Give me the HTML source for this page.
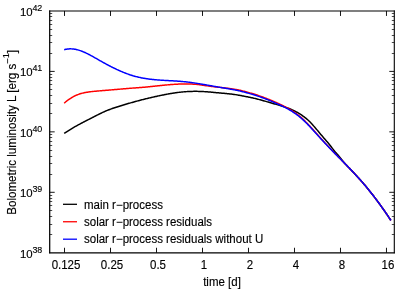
<!DOCTYPE html>
<html><head><meta charset="utf-8"><title>plot</title><style>html,body{margin:0;padding:0;background:#fff}body{width:415px;height:290px;overflow:hidden}</style></head><body>
<svg width="415" height="290" viewBox="0 0 415 290" style="display:block;will-change:transform">
<rect width="415" height="290" fill="#fff"/>
<g fill="none" stroke-linejoin="round" stroke-linecap="butt" stroke-width="1.48">
<path d="M64.20,133.37 L65.00,132.84 L65.80,132.31 L66.60,131.78 L67.40,131.27 L68.20,130.76 L69.00,130.26 L69.80,129.76 L70.60,129.28 L71.40,128.80 L72.20,128.32 L73.00,127.85 L73.80,127.39 L74.60,126.93 L75.40,126.48 L76.20,126.03 L77.00,125.58 L77.80,125.14 L78.60,124.71 L79.40,124.28 L80.20,123.85 L81.00,123.42 L81.80,123.00 L82.60,122.58 L83.40,122.16 L84.20,121.75 L85.00,121.34 L85.80,120.92 L86.60,120.51 L87.40,120.11 L88.20,119.70 L89.00,119.29 L89.80,118.88 L90.60,118.48 L91.40,118.07 L92.20,117.66 L93.00,117.26 L93.80,116.85 L94.60,116.44 L95.40,116.03 L96.20,115.62 L97.00,115.21 L97.80,114.80 L98.60,114.40 L99.40,114.00 L100.20,113.60 L101.00,113.21 L101.80,112.83 L102.60,112.45 L103.40,112.08 L104.20,111.72 L105.00,111.37 L105.80,111.02 L106.60,110.69 L107.40,110.37 L108.20,110.05 L109.00,109.74 L109.80,109.44 L110.60,109.14 L111.40,108.85 L112.20,108.57 L113.00,108.29 L113.80,108.02 L114.60,107.75 L115.40,107.49 L116.20,107.23 L117.00,106.97 L117.80,106.71 L118.60,106.46 L119.40,106.21 L120.20,105.96 L121.00,105.72 L121.80,105.47 L122.60,105.23 L123.40,104.98 L124.20,104.74 L125.00,104.50 L125.80,104.27 L126.60,104.03 L127.40,103.80 L128.20,103.56 L129.00,103.33 L129.80,103.10 L130.60,102.87 L131.40,102.64 L132.20,102.42 L133.00,102.20 L133.80,101.97 L134.60,101.75 L135.40,101.53 L136.20,101.32 L137.00,101.10 L137.80,100.89 L138.60,100.67 L139.40,100.46 L140.20,100.25 L141.00,100.05 L141.80,99.84 L142.60,99.63 L143.40,99.43 L144.20,99.23 L145.00,99.03 L145.80,98.83 L146.60,98.64 L147.40,98.44 L148.20,98.25 L149.00,98.06 L149.80,97.87 L150.60,97.68 L151.40,97.49 L152.20,97.31 L153.00,97.12 L153.80,96.94 L154.60,96.76 L155.40,96.58 L156.20,96.41 L157.00,96.23 L157.80,96.06 L158.60,95.89 L159.40,95.72 L160.20,95.55 L161.00,95.38 L161.80,95.22 L162.60,95.06 L163.40,94.90 L164.20,94.74 L165.00,94.58 L165.80,94.43 L166.60,94.28 L167.40,94.13 L168.20,93.98 L169.00,93.84 L169.80,93.70 L170.60,93.57 L171.40,93.43 L172.20,93.30 L173.00,93.18 L173.80,93.05 L174.60,92.93 L175.40,92.82 L176.20,92.71 L177.00,92.60 L177.80,92.49 L178.60,92.39 L179.40,92.30 L180.20,92.20 L181.00,92.12 L181.80,92.03 L182.60,91.96 L183.40,91.88 L184.20,91.81 L185.00,91.75 L185.80,91.69 L186.60,91.63 L187.40,91.59 L188.20,91.54 L189.00,91.50 L189.80,91.47 L190.60,91.43 L191.40,91.41 L192.20,91.39 L193.00,91.37 L193.80,91.36 L194.60,91.35 L195.40,91.35 L196.20,91.35 L197.00,91.36 L197.80,91.37 L198.60,91.39 L199.40,91.41 L200.20,91.43 L201.00,91.46 L201.80,91.49 L202.60,91.53 L203.40,91.57 L204.20,91.62 L205.00,91.67 L205.80,91.72 L206.60,91.78 L207.40,91.84 L208.20,91.91 L209.00,91.97 L209.80,92.04 L210.60,92.11 L211.40,92.19 L212.20,92.26 L213.00,92.33 L213.80,92.41 L214.60,92.49 L215.40,92.56 L216.20,92.64 L217.00,92.71 L217.80,92.79 L218.60,92.86 L219.40,92.93 L220.20,93.00 L221.00,93.07 L221.80,93.14 L222.60,93.20 L223.40,93.27 L224.20,93.34 L225.00,93.40 L225.80,93.48 L226.60,93.57 L227.40,93.65 L228.20,93.74 L229.00,93.83 L229.80,93.92 L230.60,94.01 L231.40,94.10 L232.20,94.20 L233.00,94.30 L233.80,94.40 L234.60,94.51 L235.40,94.63 L236.20,94.75 L237.00,94.88 L237.80,95.01 L238.60,95.15 L239.40,95.29 L240.20,95.44 L241.00,95.59 L241.80,95.74 L242.60,95.90 L243.40,96.06 L244.20,96.23 L245.00,96.40 L245.80,96.54 L246.60,96.69 L247.40,96.84 L248.20,97.00 L249.00,97.16 L249.80,97.32 L250.60,97.49 L251.40,97.66 L252.20,97.84 L253.00,98.02 L253.80,98.20 L254.60,98.39 L255.40,98.58 L256.20,98.78 L257.00,98.98 L257.80,99.18 L258.60,99.39 L259.40,99.60 L260.20,99.81 L261.00,100.03 L261.80,100.25 L262.60,100.47 L263.40,100.69 L264.20,100.92 L265.00,101.15 L265.80,101.38 L266.60,101.61 L267.40,101.85 L268.20,102.08 L269.00,102.32 L269.80,102.56 L270.60,102.79 L271.40,103.01 L272.20,103.24 L273.00,103.46 L273.80,103.69 L274.60,103.92 L275.40,104.15 L276.20,104.38 L277.00,104.61 L277.80,104.84 L278.60,105.06 L279.40,105.29 L280.20,105.53 L281.00,105.78 L281.80,106.04 L282.60,106.29 L283.40,106.55 L284.20,106.81 L285.00,107.07 L285.80,107.34 L286.60,107.62 L287.40,107.90 L288.20,108.18 L289.00,108.48 L289.80,108.78 L290.60,109.11 L291.40,109.46 L292.20,109.82 L293.00,110.19 L293.80,110.58 L294.60,110.97 L295.40,111.38 L296.20,111.80 L297.00,112.23 L297.80,112.68 L298.60,113.15 L299.40,113.63 L300.20,114.14 L301.00,114.67 L301.80,115.23 L302.60,115.79 L303.40,116.37 L304.20,116.96 L305.00,117.56 L305.80,118.17 L306.60,118.81 L307.40,119.48 L308.20,120.19 L309.00,120.93 L309.80,121.73 L310.60,122.56 L311.40,123.42 L312.20,124.31 L313.00,125.22 L313.80,126.13 L314.60,127.05 L315.40,127.98 L316.20,128.93 L317.00,129.88 L317.80,130.83 L318.60,131.80 L319.40,132.76 L320.20,133.73 L321.00,134.66 L321.80,135.59 L322.60,136.52 L323.40,137.46 L324.20,138.40 L325.00,139.33 L325.80,140.27 L326.60,141.18 L327.40,142.10 L328.20,143.03 L329.00,144.00 L329.80,144.99 L330.60,146.02 L331.40,147.07 L332.20,148.13 L333.00,149.16 L333.80,150.18 L334.60,151.17 L335.40,152.13 L336.20,153.06 L337.00,153.96 L337.80,154.85 L338.60,155.75 L339.40,156.66 L340.20,157.61 L341.00,158.65 L341.80,159.68 L342.60,160.69 L343.40,161.68 L344.20,162.64 L345.00,163.57 L345.80,164.47 L346.60,165.33 L347.40,166.16 L348.20,166.96 L349.00,167.79 L349.80,168.62 L350.60,169.45 L351.40,170.29 L352.20,171.13 L353.00,171.97 L353.80,172.82 L354.60,173.68 L355.40,174.53 L356.20,175.40 L357.00,176.27 L357.80,177.14 L358.60,178.02 L359.40,178.91 L360.20,179.81 L361.00,180.71 L361.80,181.62 L362.60,182.54 L363.40,183.46 L364.20,184.40 L365.00,185.34 L365.80,186.30 L366.60,187.26 L367.40,188.23 L368.20,189.21 L369.00,190.19 L369.80,191.19 L370.60,192.20 L371.40,193.21 L372.20,194.23 L373.00,195.26 L373.80,196.30 L374.60,197.35 L375.40,198.40 L376.20,199.46 L377.00,200.53 L377.80,201.61 L378.60,202.70 L379.40,203.79 L380.20,204.89 L381.00,206.00 L381.80,207.12 L382.60,208.24 L383.40,209.37 L384.20,210.51 L385.00,211.66 L385.80,212.82 L386.60,213.99 L387.40,215.17 L388.20,216.36 L389.00,217.56 L389.80,218.77 L390.60,219.99 L390.80,220.30" stroke="#000"/>
<path d="M64.20,103.19 L65.00,102.48 L65.80,101.79 L66.60,101.14 L67.40,100.51 L68.20,99.91 L69.00,99.33 L69.80,98.78 L70.60,98.26 L71.40,97.76 L72.20,97.29 L73.00,96.84 L73.80,96.41 L74.60,96.01 L75.40,95.63 L76.20,95.28 L77.00,94.94 L77.80,94.63 L78.60,94.34 L79.40,94.06 L80.20,93.80 L81.00,93.57 L81.80,93.34 L82.60,93.14 L83.40,92.94 L84.20,92.76 L85.00,92.60 L85.80,92.44 L86.60,92.30 L87.40,92.17 L88.20,92.04 L89.00,91.93 L89.80,91.82 L90.60,91.72 L91.40,91.62 L92.20,91.53 L93.00,91.45 L93.80,91.37 L94.60,91.29 L95.40,91.22 L96.20,91.15 L97.00,91.08 L97.80,91.01 L98.60,90.95 L99.40,90.88 L100.20,90.81 L101.00,90.75 L101.80,90.68 L102.60,90.61 L103.40,90.55 L104.20,90.48 L105.00,90.41 L105.80,90.34 L106.60,90.28 L107.40,90.21 L108.20,90.14 L109.00,90.08 L109.80,90.01 L110.60,89.94 L111.40,89.87 L112.20,89.81 L113.00,89.74 L113.80,89.67 L114.60,89.60 L115.40,89.53 L116.20,89.47 L117.00,89.40 L117.80,89.33 L118.60,89.26 L119.40,89.19 L120.20,89.13 L121.00,89.06 L121.80,88.99 L122.60,88.92 L123.40,88.85 L124.20,88.78 L125.00,88.71 L125.80,88.64 L126.60,88.57 L127.40,88.51 L128.20,88.44 L129.00,88.37 L129.80,88.31 L130.60,88.25 L131.40,88.18 L132.20,88.12 L133.00,88.06 L133.80,88.01 L134.60,87.95 L135.40,87.89 L136.20,87.84 L137.00,87.78 L137.80,87.73 L138.60,87.67 L139.40,87.61 L140.20,87.55 L141.00,87.48 L141.80,87.42 L142.60,87.35 L143.40,87.28 L144.20,87.21 L145.00,87.14 L145.80,87.06 L146.60,86.98 L147.40,86.91 L148.20,86.83 L149.00,86.75 L149.80,86.67 L150.60,86.59 L151.40,86.50 L152.20,86.42 L153.00,86.34 L153.80,86.25 L154.60,86.17 L155.40,86.08 L156.20,86.00 L157.00,85.92 L157.80,85.83 L158.60,85.75 L159.40,85.66 L160.20,85.58 L161.00,85.50 L161.80,85.42 L162.60,85.34 L163.40,85.26 L164.20,85.18 L165.00,85.10 L165.80,85.03 L166.60,84.96 L167.40,84.88 L168.20,84.81 L169.00,84.75 L169.80,84.68 L170.60,84.61 L171.40,84.55 L172.20,84.49 L173.00,84.44 L173.80,84.38 L174.60,84.33 L175.40,84.28 L176.20,84.23 L177.00,84.19 L177.80,84.15 L178.60,84.11 L179.40,84.08 L180.20,84.05 L181.00,84.03 L181.80,84.00 L182.60,83.98 L183.40,83.97 L184.20,83.96 L185.00,83.95 L185.80,83.95 L186.60,83.96 L187.40,83.96 L188.20,83.98 L189.00,83.99 L189.80,84.02 L190.60,84.04 L191.40,84.07 L192.20,84.11 L193.00,84.16 L193.80,84.20 L194.60,84.26 L195.40,84.32 L196.20,84.38 L197.00,84.45 L197.80,84.53 L198.60,84.62 L199.40,84.73 L200.20,84.84 L201.00,84.95 L201.80,85.07 L202.60,85.18 L203.40,85.30 L204.20,85.42 L205.00,85.54 L205.80,85.66 L206.60,85.76 L207.40,85.87 L208.20,85.98 L209.00,86.09 L209.80,86.20 L210.60,86.31 L211.40,86.41 L212.20,86.52 L213.00,86.63 L213.80,86.72 L214.60,86.80 L215.40,86.89 L216.20,86.97 L217.00,87.05 L217.80,87.14 L218.60,87.22 L219.40,87.30 L220.20,87.38 L221.00,87.48 L221.80,87.57 L222.60,87.67 L223.40,87.76 L224.20,87.85 L225.00,87.95 L225.80,88.04 L226.60,88.13 L227.40,88.23 L228.20,88.33 L229.00,88.44 L229.80,88.56 L230.60,88.67 L231.40,88.79 L232.20,88.91 L233.00,89.03 L233.80,89.15 L234.60,89.27 L235.40,89.41 L236.20,89.55 L237.00,89.70 L237.80,89.85 L238.60,90.01 L239.40,90.17 L240.20,90.33 L241.00,90.52 L241.80,90.71 L242.60,90.91 L243.40,91.11 L244.20,91.31 L245.00,91.52 L245.80,91.73 L246.60,91.95 L247.40,92.17 L248.20,92.40 L249.00,92.63 L249.80,92.87 L250.60,93.10 L251.40,93.33 L252.20,93.56 L253.00,93.80 L253.80,94.04 L254.60,94.29 L255.40,94.54 L256.20,94.80 L257.00,95.06 L257.80,95.32 L258.60,95.59 L259.40,95.86 L260.20,96.14 L261.00,96.42 L261.80,96.71 L262.60,97.00 L263.40,97.29 L264.20,97.59 L265.00,97.89 L265.80,98.20 L266.60,98.51 L267.40,98.82 L268.20,99.14 L269.00,99.46 L269.80,99.79 L270.60,100.12 L271.40,100.45 L272.20,100.79 L273.00,101.13 L273.80,101.47 L274.60,101.82 L275.40,102.17 L276.20,102.54 L277.00,102.90 L277.80,103.27 L278.60,103.65 L279.40,104.02 L280.20,104.40 L281.00,104.78 L281.80,105.16 L282.60,105.54 L283.40,105.94 L284.20,106.33 L285.00,106.74 L285.80,107.15 L286.60,107.57 L287.40,108.00 L288.20,108.44 L289.00,108.88 L289.80,109.34 L290.60,109.82 L291.40,110.32 L292.20,110.83 L293.00,111.35 L293.80,111.89 L294.60,112.44 L295.40,113.00 L296.20,113.58 L297.00,114.18 L297.80,114.79 L298.60,115.42 L299.40,116.07 L300.20,116.74 L301.00,117.43 L301.80,118.14 L302.60,118.86 L303.40,119.61 L304.20,120.37 L305.00,121.14 L305.80,121.93 L306.60,122.74 L307.40,123.56 L308.20,124.40 L309.00,125.25 L309.80,126.11 L310.60,126.97 L311.40,127.84 L312.20,128.72 L313.00,129.61 L313.80,130.50 L314.60,131.40 L315.40,132.30 L316.20,133.20 L317.00,134.11 L317.80,135.01 L318.60,135.92 L319.40,136.82 L320.20,137.71 L321.00,138.59 L321.80,139.47 L322.60,140.34 L323.40,141.21 L324.20,142.08 L325.00,142.94 L325.80,143.80 L326.60,144.66 L327.40,145.51 L328.20,146.36 L329.00,147.21 L329.80,148.05 L330.60,148.89 L331.40,149.73 L332.20,150.57 L333.00,151.40 L333.80,152.23 L334.60,153.05 L335.40,153.88 L336.20,154.70 L337.00,155.52 L337.80,156.33 L338.60,157.15 L339.40,157.96 L340.20,158.78 L341.00,159.59 L341.80,160.41 L342.60,161.23 L343.40,162.04 L344.20,162.86 L345.00,163.68 L345.80,164.50 L346.60,165.32 L347.40,166.14 L348.20,166.96 L349.00,167.79 L349.80,168.62 L350.60,169.45 L351.40,170.29 L352.20,171.13 L353.00,171.97 L353.80,172.82 L354.60,173.68 L355.40,174.53 L356.20,175.40 L357.00,176.27 L357.80,177.14 L358.60,178.02 L359.40,178.91 L360.20,179.81 L361.00,180.71 L361.80,181.62 L362.60,182.54 L363.40,183.46 L364.20,184.40 L365.00,185.34 L365.80,186.30 L366.60,187.26 L367.40,188.23 L368.20,189.21 L369.00,190.19 L369.80,191.19 L370.60,192.20 L371.40,193.21 L372.20,194.23 L373.00,195.26 L373.80,196.30 L374.60,197.35 L375.40,198.40 L376.20,199.46 L377.00,200.53 L377.80,201.61 L378.60,202.70 L379.40,203.79 L380.20,204.89 L381.00,206.00 L381.80,207.12 L382.60,208.24 L383.40,209.37 L384.20,210.51 L385.00,211.66 L385.80,212.82 L386.60,213.99 L387.40,215.17 L388.20,216.36 L389.00,217.56 L389.80,218.77 L390.60,219.99 L390.80,220.30" stroke="#f00"/>
<path d="M64.20,49.74 L65.00,49.52 L65.80,49.33 L66.60,49.18 L67.40,49.05 L68.20,48.96 L69.00,48.90 L69.80,48.86 L70.60,48.85 L71.40,48.87 L72.20,48.92 L73.00,48.99 L73.80,49.08 L74.60,49.20 L75.40,49.35 L76.20,49.51 L77.00,49.70 L77.80,49.90 L78.60,50.13 L79.40,50.37 L80.20,50.64 L81.00,50.92 L81.80,51.22 L82.60,51.53 L83.40,51.86 L84.20,52.20 L85.00,52.55 L85.80,52.92 L86.60,53.30 L87.40,53.69 L88.20,54.09 L89.00,54.50 L89.80,54.92 L90.60,55.35 L91.40,55.78 L92.20,56.22 L93.00,56.66 L93.80,57.11 L94.60,57.56 L95.40,58.02 L96.20,58.48 L97.00,58.94 L97.80,59.39 L98.60,59.85 L99.40,60.31 L100.20,60.77 L101.00,61.22 L101.80,61.67 L102.60,62.12 L103.40,62.56 L104.20,63.00 L105.00,63.44 L105.80,63.88 L106.60,64.31 L107.40,64.73 L108.20,65.16 L109.00,65.58 L109.80,66.00 L110.60,66.41 L111.40,66.82 L112.20,67.22 L113.00,67.62 L113.80,68.02 L114.60,68.41 L115.40,68.79 L116.20,69.17 L117.00,69.55 L117.80,69.91 L118.60,70.28 L119.40,70.64 L120.20,70.99 L121.00,71.34 L121.80,71.68 L122.60,72.01 L123.40,72.34 L124.20,72.66 L125.00,72.98 L125.80,73.29 L126.60,73.59 L127.40,73.89 L128.20,74.17 L129.00,74.45 L129.80,74.73 L130.60,74.99 L131.40,75.25 L132.20,75.50 L133.00,75.75 L133.80,75.98 L134.60,76.21 L135.40,76.43 L136.20,76.64 L137.00,76.84 L137.80,77.03 L138.60,77.22 L139.40,77.40 L140.20,77.57 L141.00,77.74 L141.80,77.90 L142.60,78.05 L143.40,78.20 L144.20,78.33 L145.00,78.47 L145.80,78.60 L146.60,78.72 L147.40,78.83 L148.20,78.95 L149.00,79.05 L149.80,79.15 L150.60,79.25 L151.40,79.34 L152.20,79.43 L153.00,79.51 L153.80,79.59 L154.60,79.67 L155.40,79.74 L156.20,79.81 L157.00,79.88 L157.80,79.94 L158.60,80.00 L159.40,80.06 L160.20,80.12 L161.00,80.17 L161.80,80.22 L162.60,80.27 L163.40,80.32 L164.20,80.37 L165.00,80.42 L165.80,80.46 L166.60,80.51 L167.40,80.55 L168.20,80.59 L169.00,80.64 L169.80,80.68 L170.60,80.73 L171.40,80.77 L172.20,80.81 L173.00,80.86 L173.80,80.91 L174.60,80.95 L175.40,81.00 L176.20,81.05 L177.00,81.11 L177.80,81.16 L178.60,81.22 L179.40,81.28 L180.20,81.34 L181.00,81.40 L181.80,81.47 L182.60,81.54 L183.40,81.62 L184.20,81.69 L185.00,81.78 L185.80,81.86 L186.60,81.95 L187.40,82.04 L188.20,82.14 L189.00,82.24 L189.80,82.34 L190.60,82.44 L191.40,82.55 L192.20,82.66 L193.00,82.77 L193.80,82.89 L194.60,83.01 L195.40,83.13 L196.20,83.25 L197.00,83.37 L197.80,83.50 L198.60,83.63 L199.40,83.76 L200.20,83.89 L201.00,84.02 L201.80,84.16 L202.60,84.29 L203.40,84.43 L204.20,84.57 L205.00,84.71 L205.80,84.85 L206.60,84.99 L207.40,85.13 L208.20,85.27 L209.00,85.42 L209.80,85.56 L210.60,85.70 L211.40,85.85 L212.20,85.99 L213.00,86.13 L213.80,86.27 L214.60,86.42 L215.40,86.56 L216.20,86.70 L217.00,86.84 L217.80,86.98 L218.60,87.12 L219.40,87.25 L220.20,87.39 L221.00,87.53 L221.80,87.66 L222.60,87.80 L223.40,87.93 L224.20,88.06 L225.00,88.20 L225.80,88.33 L226.60,88.46 L227.40,88.60 L228.20,88.73 L229.00,88.87 L229.80,89.01 L230.60,89.15 L231.40,89.29 L232.20,89.43 L233.00,89.57 L233.80,89.72 L234.60,89.87 L235.40,90.03 L236.20,90.19 L237.00,90.37 L237.80,90.54 L238.60,90.72 L239.40,90.90 L240.20,91.08 L241.00,91.27 L241.80,91.46 L242.60,91.66 L243.40,91.86 L244.20,92.07 L245.00,92.28 L245.80,92.49 L246.60,92.71 L247.40,92.93 L248.20,93.16 L249.00,93.39 L249.80,93.63 L250.60,93.86 L251.40,94.09 L252.20,94.33 L253.00,94.57 L253.80,94.81 L254.60,95.06 L255.40,95.31 L256.20,95.57 L257.00,95.83 L257.80,96.10 L258.60,96.37 L259.40,96.64 L260.20,96.92 L261.00,97.20 L261.80,97.49 L262.60,97.78 L263.40,98.08 L264.20,98.37 L265.00,98.68 L265.80,98.98 L266.60,99.30 L267.40,99.61 L268.20,99.93 L269.00,100.25 L269.80,100.58 L270.60,100.91 L271.40,101.24 L272.20,101.58 L273.00,101.92 L273.80,102.27 L274.60,102.62 L275.40,102.97 L276.20,103.33 L277.00,103.69 L277.80,104.05 L278.60,104.42 L279.40,104.79 L280.20,105.16 L281.00,105.53 L281.80,105.90 L282.60,106.28 L283.40,106.67 L284.20,107.06 L285.00,107.46 L285.80,107.86 L286.60,108.28 L287.40,108.70 L288.20,109.13 L289.00,109.57 L289.80,110.02 L290.60,110.50 L291.40,110.99 L292.20,111.49 L293.00,112.01 L293.80,112.54 L294.60,113.08 L295.40,113.64 L296.20,114.21 L297.00,114.80 L297.80,115.41 L298.60,116.03 L299.40,116.67 L300.20,117.33 L301.00,118.01 L301.80,118.71 L302.60,119.42 L303.40,120.15 L304.20,120.90 L305.00,121.67 L305.80,122.45 L306.60,123.24 L307.40,124.05 L308.20,124.88 L309.00,125.71 L309.80,126.56 L310.60,127.41 L311.40,128.27 L312.20,129.14 L313.00,130.01 L313.80,130.89 L314.60,131.78 L315.40,132.67 L316.20,133.56 L317.00,134.45 L317.80,135.34 L318.60,136.24 L319.40,137.13 L320.20,138.01 L321.00,138.88 L321.80,139.74 L322.60,140.60 L323.40,141.46 L324.20,142.32 L325.00,143.17 L325.80,144.01 L326.60,144.86 L327.40,145.70 L328.20,146.54 L329.00,147.37 L329.80,148.20 L330.60,149.03 L331.40,149.86 L332.20,150.68 L333.00,151.50 L333.80,152.32 L334.60,153.14 L335.40,153.95 L336.20,154.76 L337.00,155.56 L337.80,156.37 L338.60,157.17 L339.40,157.97 L340.20,158.78 L341.00,159.59 L341.80,160.41 L342.60,161.23 L343.40,162.04 L344.20,162.86 L345.00,163.68 L345.80,164.50 L346.60,165.32 L347.40,166.14 L348.20,166.96 L349.00,167.79 L349.80,168.62 L350.60,169.45 L351.40,170.29 L352.20,171.13 L353.00,171.97 L353.80,172.82 L354.60,173.68 L355.40,174.53 L356.20,175.40 L357.00,176.27 L357.80,177.14 L358.60,178.02 L359.40,178.91 L360.20,179.81 L361.00,180.71 L361.80,181.62 L362.60,182.54 L363.40,183.46 L364.20,184.40 L365.00,185.34 L365.80,186.30 L366.60,187.26 L367.40,188.23 L368.20,189.21 L369.00,190.19 L369.80,191.19 L370.60,192.20 L371.40,193.21 L372.20,194.23 L373.00,195.26 L373.80,196.30 L374.60,197.35 L375.40,198.40 L376.20,199.46 L377.00,200.53 L377.80,201.61 L378.60,202.70 L379.40,203.79 L380.20,204.89 L381.00,206.00 L381.80,207.12 L382.60,208.24 L383.40,209.37 L384.20,210.51 L385.00,211.66 L385.80,212.82 L386.60,213.99 L387.40,215.17 L388.20,216.36 L389.00,217.56 L389.80,218.77 L390.60,219.99 L390.80,220.30" stroke="#00f"/>
</g>
<path d="M49.7,53.50h2.5 M394.3,53.50h-2.5 M49.7,42.50h2.5 M394.3,42.50h-2.5 M49.7,35.50h2.5 M394.3,35.50h-2.5 M49.7,29.50h2.5 M394.3,29.50h-2.5 M49.7,24.50h2.5 M394.3,24.50h-2.5 M49.7,20.50h2.5 M394.3,20.50h-2.5 M49.7,16.50h2.5 M394.3,16.50h-2.5 M49.7,13.50h2.5 M394.3,13.50h-2.5 M49.7,113.50h2.5 M394.3,113.50h-2.5 M49.7,103.50h2.5 M394.3,103.50h-2.5 M49.7,95.50h2.5 M394.3,95.50h-2.5 M49.7,89.50h2.5 M394.3,89.50h-2.5 M49.7,84.50h2.5 M394.3,84.50h-2.5 M49.7,80.50h2.5 M394.3,80.50h-2.5 M49.7,77.50h2.5 M394.3,77.50h-2.5 M49.7,74.50h2.5 M394.3,74.50h-2.5 M49.7,174.50h2.5 M394.3,174.50h-2.5 M49.7,163.50h2.5 M394.3,163.50h-2.5 M49.7,156.50h2.5 M394.3,156.50h-2.5 M49.7,150.50h2.5 M394.3,150.50h-2.5 M49.7,145.50h2.5 M394.3,145.50h-2.5 M49.7,141.50h2.5 M394.3,141.50h-2.5 M49.7,137.50h2.5 M394.3,137.50h-2.5 M49.7,134.50h2.5 M394.3,134.50h-2.5 M49.7,234.50h2.5 M394.3,234.50h-2.5 M49.7,224.50h2.5 M394.3,224.50h-2.5 M49.7,216.50h2.5 M394.3,216.50h-2.5 M49.7,210.50h2.5 M394.3,210.50h-2.5 M49.7,205.50h2.5 M394.3,205.50h-2.5 M49.7,201.50h2.5 M394.3,201.50h-2.5 M49.7,198.50h2.5 M394.3,198.50h-2.5 M49.7,195.50h2.5 M394.3,195.50h-2.5" stroke="#4a4a4a" stroke-width="1" fill="none"/>
<path d="M49.7,71.40h5 M394.3,71.40h-5 M49.7,131.85h5 M394.3,131.85h-5 M49.7,192.30h5 M394.3,192.30h-5 M64.51,252.75v-5 M64.51,10.95v5 M110.50,252.75v-5 M110.50,10.95v5 M156.50,252.75v-5 M156.50,10.95v5 M202.50,252.75v-5 M202.50,10.95v5 M248.49,252.75v-5 M248.49,10.95v5 M294.49,252.75v-5 M294.49,10.95v5 M340.49,252.75v-5 M340.49,10.95v5 M386.48,252.75v-5 M386.48,10.95v5" stroke="#000" stroke-width="0.92" fill="none"/>
<path d="M49.080000000000005,11H394.85" stroke="#000" stroke-width="1.05" fill="none"/>
<path d="M394.3,10.45V253.35" stroke="#000" stroke-width="1.1" fill="none"/>
<path d="M49.7,10.45V253.37" stroke="#000" stroke-width="1.25" fill="none"/>
<path d="M49.080000000000005,252.75H394.85" stroke="#000" stroke-width="1.25" fill="none"/>
<g font-family="Liberation Sans, sans-serif" font-size="12.0" fill="#000" stroke="#000" stroke-width="0.14">
<text transform="translate(20.00,15.75) scale(0.975,1)" font-size="11.7" text-anchor="start">10</text><text transform="translate(32.40,10.85) scale(0.92,1)" font-size="9.7" text-anchor="start">42</text>
<text transform="translate(20.00,76.20) scale(0.975,1)" font-size="11.7" text-anchor="start">10</text><text transform="translate(32.40,71.30) scale(0.92,1)" font-size="9.7" text-anchor="start">41</text>
<text transform="translate(20.00,136.65) scale(0.975,1)" font-size="11.7" text-anchor="start">10</text><text transform="translate(32.40,131.75) scale(0.92,1)" font-size="9.7" text-anchor="start">40</text>
<text transform="translate(20.00,197.10) scale(0.975,1)" font-size="11.7" text-anchor="start">10</text><text transform="translate(32.40,192.20) scale(0.92,1)" font-size="9.7" text-anchor="start">39</text>
<text transform="translate(20.00,257.55) scale(0.975,1)" font-size="11.7" text-anchor="start">10</text><text transform="translate(32.40,252.65) scale(0.92,1)" font-size="9.7" text-anchor="start">38</text>
<text transform="translate(66.01,268.60) scale(0.958,1)" font-size="12.0" text-anchor="middle">0.125</text>
<text transform="translate(112.00,268.60) scale(0.958,1)" font-size="12.0" text-anchor="middle">0.25</text>
<text transform="translate(158.00,268.60) scale(0.958,1)" font-size="12.0" text-anchor="middle">0.5</text>
<text transform="translate(204.00,268.60) scale(0.958,1)" font-size="12.0" text-anchor="middle">1</text>
<text transform="translate(249.99,268.60) scale(0.958,1)" font-size="12.0" text-anchor="middle">2</text>
<text transform="translate(295.99,268.60) scale(0.958,1)" font-size="12.0" text-anchor="middle">4</text>
<text transform="translate(341.99,268.60) scale(0.958,1)" font-size="12.0" text-anchor="middle">8</text>
<text transform="translate(387.98,268.60) scale(0.958,1)" font-size="12.0" text-anchor="middle">16</text>
<text transform="translate(222.00,285.60) scale(0.958,1)" font-size="12.0" text-anchor="middle">time [d]</text>
<text transform="translate(15.50,132.35) rotate(-90) scale(0.967,1)" font-size="12.0" text-anchor="middle">Bolometric luminosity L [erg s<tspan font-size="9.6" dy="-4.3">−</tspan><tspan font-size="9.6" dy="-2.3">1</tspan><tspan dy="6.6">]</tspan></text>
<path d="M63,204.30h14" stroke="#000" stroke-width="1.3" fill="none"/>
<text transform="translate(84.00,208.50) scale(0.958,1)" font-size="12.0" text-anchor="start">main r−process</text>
<path d="M63,221.75h14" stroke="#f00" stroke-width="1.3" fill="none"/>
<text transform="translate(84.00,225.95) scale(0.958,1)" font-size="12.0" text-anchor="start">solar r−process residuals</text>
<path d="M63,239.20h14" stroke="#00f" stroke-width="1.3" fill="none"/>
<text transform="translate(84.00,243.40) scale(0.958,1)" font-size="12.0" text-anchor="start">solar r−process residuals without U</text>
</g>
</svg>
</body></html>
